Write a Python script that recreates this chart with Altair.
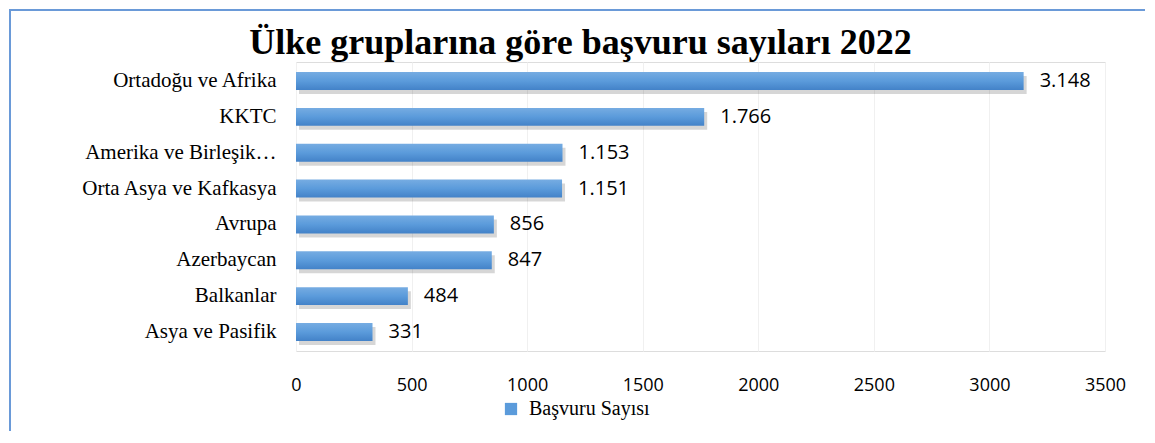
import altair as alt
import pandas as pd

categories = ["Ortadoğu ve Afrika", "KKTC", "Amerika ve Birleşik…", "Orta Asya ve Kafkasya",
              "Avrupa", "Azerbaycan", "Balkanlar", "Asya ve Pasifik"]
values = [3148, 1766, 1153, 1151, 856, 847, 484, 331]
series_name = "Başvuru Sayısı"
title_text = "Ülke gruplarına göre başvuru sayıları 2022"
x_ticks = [0, 500, 1000, 1500, 2000, 2500, 3000, 3500]

df = pd.DataFrame({"kategori": categories, "deger": values, "seri": [series_name] * len(values)})

grad = alt.Gradient(
    gradient="linear",
    stops=[alt.GradientStop(color="#76ACE2", offset=0),
           alt.GradientStop(color="#5B9BDB", offset=0.5),
           alt.GradientStop(color="#4382C8", offset=1)],
    x1=0, x2=0, y1=0, y2=1,
)

y_enc = alt.Y("kategori:N", sort=categories,
              scale=alt.Scale(paddingInner=0.5, paddingOuter=0.28),
              axis=alt.Axis(title=None, labelFont="Liberation Serif", labelFontSize=21,
                            labelColor="#000000", ticks=False, domain=False,
                            labelPadding=20, labelLimit=300))
x_enc = alt.X("deger:Q", scale=alt.Scale(domain=[0, 3500], nice=False),
              axis=alt.Axis(title=None, values=x_ticks, format="d", labelFlush=False,
                            labelFont="Open Sans", labelFontSize=18, labelColor="#000000",
                            ticks=False, domain=False, labelPadding=25,
                            grid=True, gridColor="#F0F0F0", gridWidth=1))

shadow = alt.Chart(df).mark_bar(color="#000000", opacity=0.16, xOffset=3, yOffset=4).encode(
    x=x_enc, y=y_enc)

bars = alt.Chart(df).mark_bar(fill=grad).encode(
    x=x_enc, y=y_enc,
    color=alt.Color("seri:N", scale=alt.Scale(domain=[series_name], range=["#5B9BDB"]),
                    legend=alt.Legend(title=None, orient="none", legendX=205, legendY=337,
                                      symbolType="square", symbolSize=150,
                                      labelFont="Liberation Serif", labelFontSize=20,
                                      labelColor="#000000", symbolStrokeWidth=0,
                                      labelOffset=8)),
)

labels = alt.Chart(df).transform_calculate(
    lbl="replace(format(datum.deger, ','), ',', '.')"
).mark_text(align="left", baseline="middle", dx=16, font="Open Sans", fontSize=20,
            color="#000000").encode(x=x_enc, y=y_enc, text="lbl:N")

frame = alt.Chart(df).mark_rect(fill=None, stroke="#6A9AD8", strokeWidth=2).encode(
    x=alt.value(-286), x2=alt.value(900), y=alt.value(-52), y2=alt.value(500)
)

chart = alt.layer(frame, shadow, bars, labels).properties(
    width=809, height=289,
    autosize=alt.AutoSizeParams(type="none"),
    padding={"left": 288, "top": 54, "right": 40, "bottom": 80},
    title=alt.TitleParams(title_text, font="Liberation Serif", fontSize=36, fontWeight="bold",
                          color="#000000", anchor="middle", frame="group", dx=-120,
                          baseline="alphabetic", offset=-81),
).configure_view(stroke="#6A9AD8", strokeWidth=2).configure(background="#FFFFFF")

chart.save("out.html", embed_options={"renderer": "svg", "actions": False})
